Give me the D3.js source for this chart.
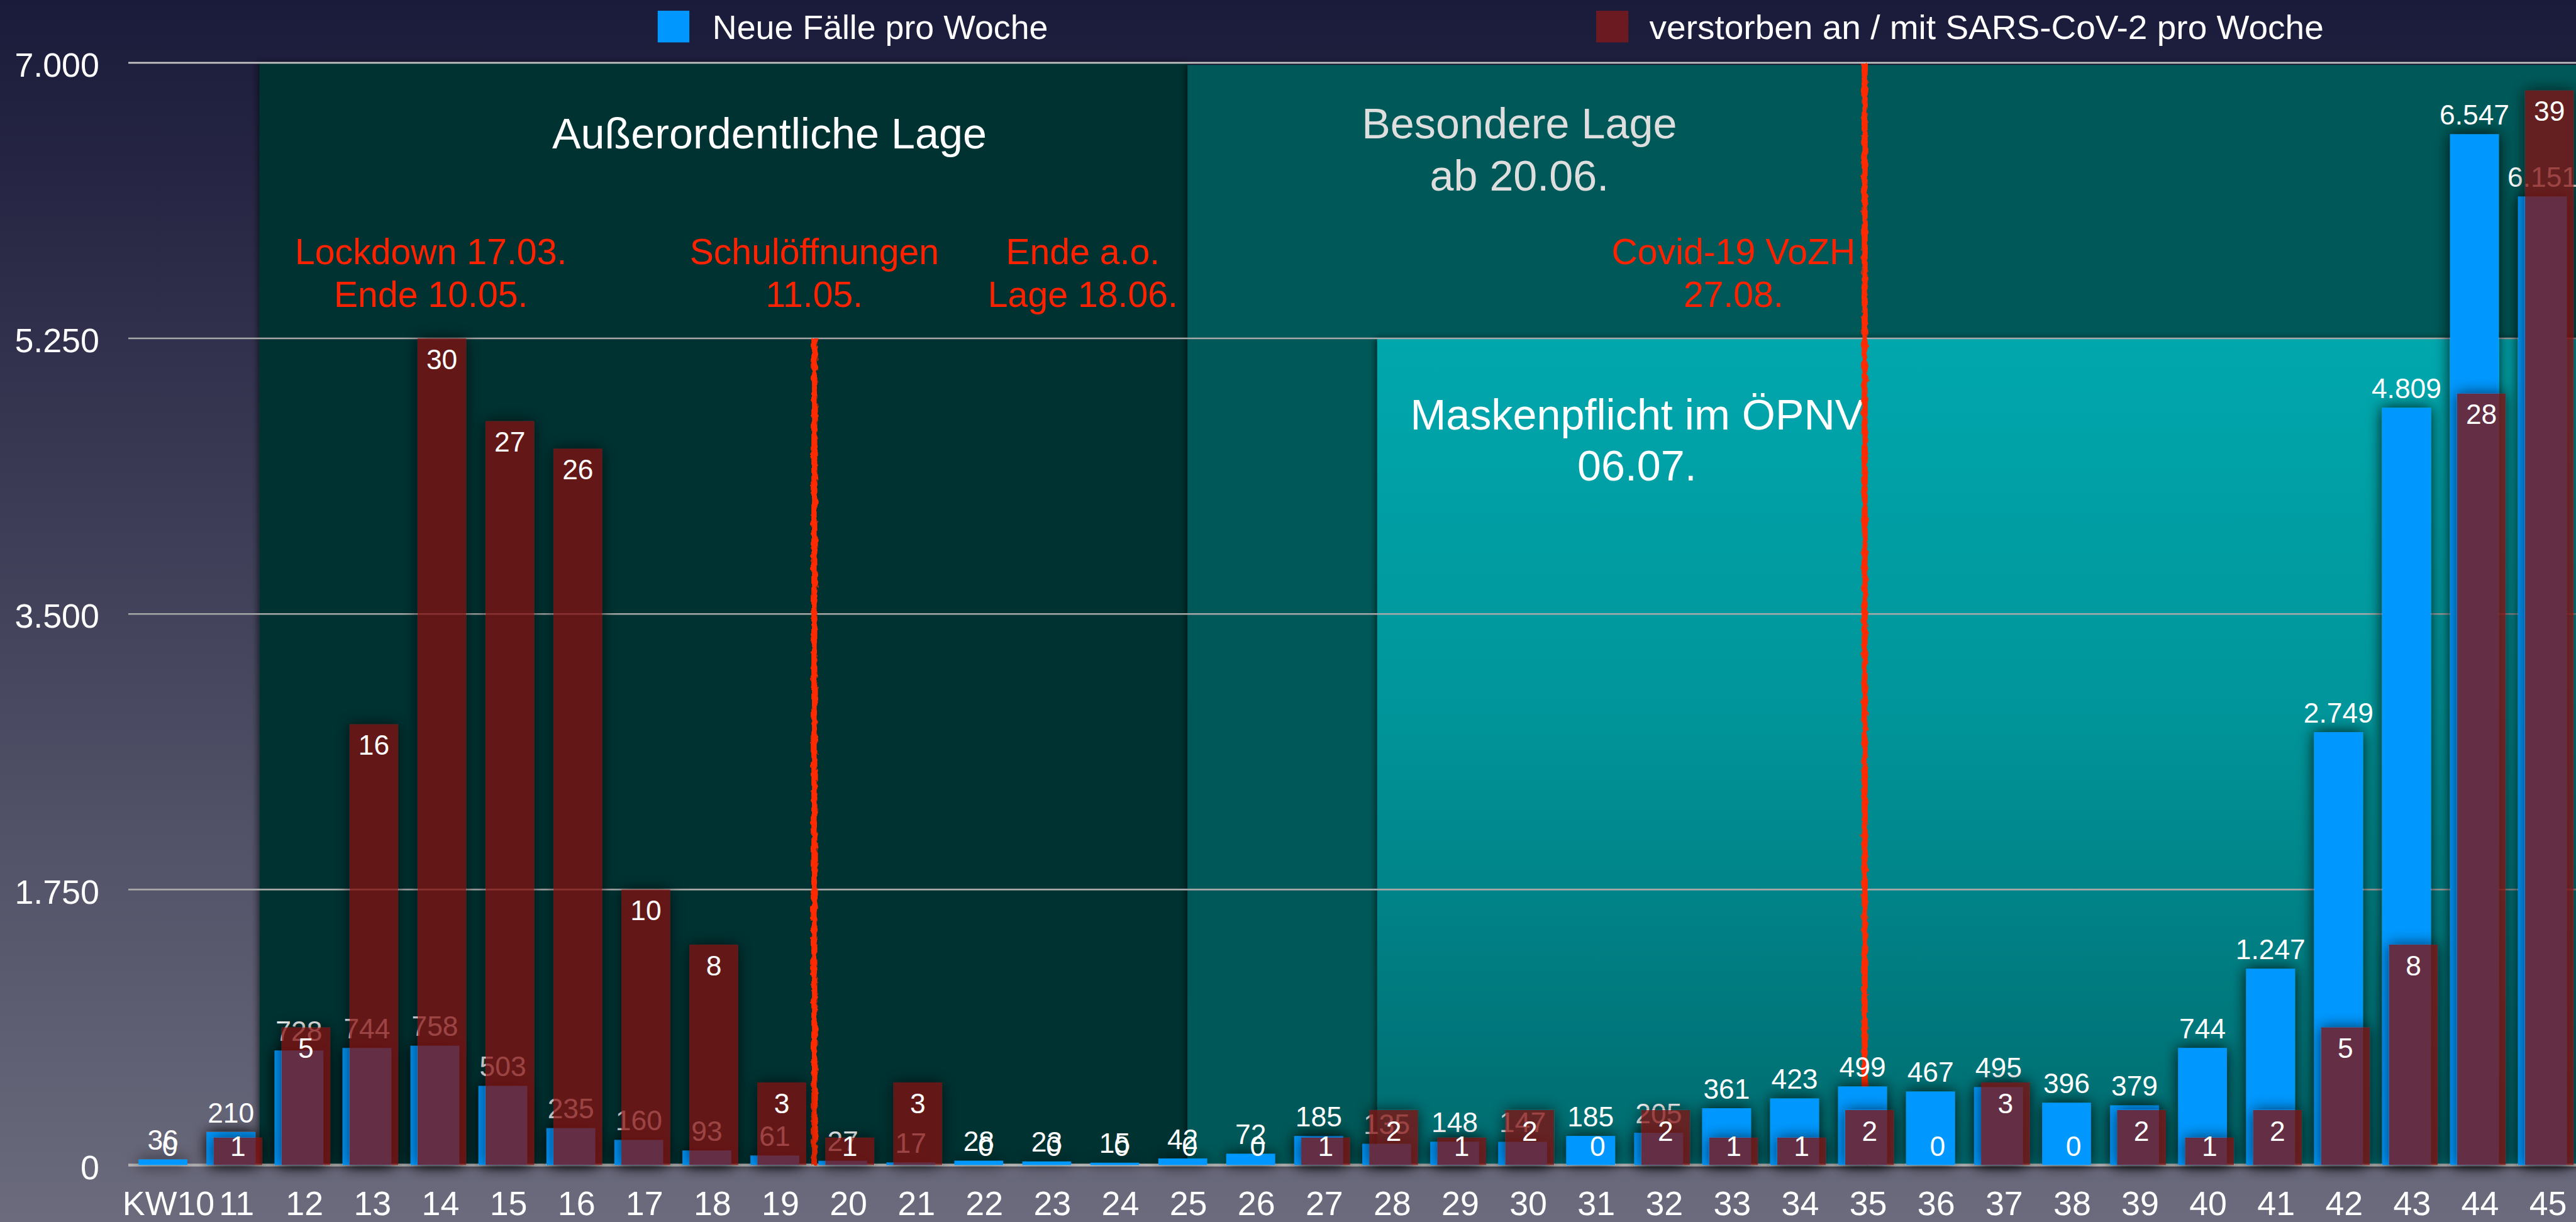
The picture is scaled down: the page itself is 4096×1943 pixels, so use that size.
<!DOCTYPE html>
<html lang="de">
<head>
<meta charset="UTF-8">
<script src="https://d3js.org/d3.v7.min.js"></script>
<style>
  html, body { margin: 0; padding: 0; overflow: hidden; background: #1a1a3a; }
  text { font-family: "Liberation Sans", Arial, Helvetica, sans-serif; }
</style>
</head>
<body>
<div id="chart"></div>
<script>
// --- data ---
const weeks = ["KW10","11","12","13","14","15","16","17","18","19","20","21","22","23","24","25","26","27",
               "28","29","30","31","32","33","34","35","36","37","38","39","40","41","42","43","44","45"];
const cases = [36,210,728,744,758,503,235,160,93,61,27,17,28,23,15,42,72,185,
               135,148,147,185,205,361,423,499,467,495,396,379,744,1247,2749,4809,6547,6151];
const deaths = [0,1,5,16,30,27,26,10,8,3,1,3,0,0,0,0,0,1,
                2,1,2,0,2,1,1,2,0,3,0,2,1,2,5,8,28,39];
const yTicks = [0, 1750, 3500, 5250, 7000];
const seriesNames = ["Neue Fälle pro Woche", "verstorben an / mit SARS-CoV-2 pro Woche"];

// phases (in week units)
const phaseStart = [11.37, 25.02, 27.81];
const phaseEnd = [25.02, 45.6, 45.6];
const phaseTop = [7000, 7000, 5250];
const phaseLines = [["Außerordentliche Lage"], ["Besondere Lage", "ab 20.06."], ["Maskenpflicht im ÖPNV", "06.07."]];
const phaseTextWeek = [18.87, 29.9, 31.63];

// events
const eventWeek = [19.53, 34.98];
const eventTop = [5250, 7000];
const noteLines = [["Lockdown 17.03.", "Ende 10.05."], ["Schulöffnungen", "11.05."], ["Ende a.o.", "Lage 18.06."], ["Covid-19 VoZH", "27.08."]];
const noteWeek = [13.89, 19.53, 23.48, 33.05];

// --- setup ---
const W = 4798, H = 2276;
const k = 4096 / W;
const de = d3.formatLocale({decimal: ",", thousands: ".", grouping: [3], currency: ["", " €"]});
const fmt = de.format(",");

const svg = d3.select("#chart").append("svg")
    .attr("width", 4096)
    .attr("height", 1943);
const defs = svg.append("defs");

const bg = defs.append("linearGradient").attr("id", "bg").attr("x1", 0).attr("y1", 0).attr("x2", 0).attr("y2", 1);
bg.append("stop").attr("offset", "0%").attr("stop-color", "#1a1a3a");
bg.append("stop").attr("offset", "100%").attr("stop-color", "#6b6b7d");

const mask = defs.append("linearGradient").attr("id", "mask").attr("x1", 0).attr("y1", 0).attr("x2", 0).attr("y2", 1);
mask.append("stop").attr("offset", "0%").attr("stop-color", "#00a7ad");
mask.append("stop").attr("offset", "45%").attr("stop-color", "#00959a");
mask.append("stop").attr("offset", "100%").attr("stop-color", "#006a6e");

// outer shadow for bars (user space, bar origin at its top-left)
const sh = defs.append("filter").attr("id", "barShadow").attr("filterUnits", "userSpaceOnUse")
    .attr("x", -90).attr("y", -90).attr("width", 280).attr("height", 2400);
sh.append("feGaussianBlur").attr("in", "SourceAlpha").attr("stdDeviation", 14).attr("result", "blur");
sh.append("feComponentTransfer").attr("in", "SourceAlpha").attr("result", "solid")
  .append("feFuncA").attr("type", "linear").attr("slope", 20);
sh.append("feComposite").attr("in", "blur").attr("in2", "solid").attr("operator", "out").attr("result", "outer");
sh.append("feFlood").attr("flood-color", "#000").attr("flood-opacity", 0.85);
sh.append("feComposite").attr("in2", "outer").attr("operator", "in").attr("result", "shadow");
const shm = sh.append("feMerge");
shm.append("feMergeNode").attr("in", "shadow");
shm.append("feMergeNode").attr("in", "SourceGraphic");

const rs = defs.append("filter").attr("id", "regionShadow").attr("x", -0.05).attr("y", -0.05).attr("width", 1.1).attr("height", 1.1);
rs.append("feDropShadow").attr("dx", -3).attr("dy", 0).attr("stdDeviation", 6)
  .attr("flood-color", "#000").attr("flood-opacity", 0.6);

const rough = defs.append("filter").attr("id", "rough").attr("x", -2).attr("y", -0.02).attr("width", 5).attr("height", 1.04);
rough.append("feTurbulence").attr("type", "fractalNoise").attr("baseFrequency", "0.15 0.08")
  .attr("numOctaves", 2).attr("seed", 3).attr("result", "noise");
rough.append("feDisplacementMap").attr("in", "SourceGraphic").attr("in2", "noise").attr("scale", 8)
  .attr("xChannelSelector", "R").attr("yChannelSelector", "G");

const g = svg.append("g").attr("transform", `scale(${k})`);
g.append("rect").attr("width", W).attr("height", H).attr("fill", "url(#bg)");

// scales
const x = d3.scaleBand().domain(weeks).range([246.7, 4805.3]);
const step = x.step();
const wx = w => x(weeks[0]) + step / 2 + (w - 10) * step;
const y = d3.scaleLinear().domain([0, 7000]).range([2170, 117]);
const y2 = d3.scaleLinear().domain([0, 40]).range([2170, 117]);
const plotLeft = 239;
const barW = 91;
const blueX = (d) => x(d) + step / 2 - 52;
const redX = (d) => x(d) + step / 2 - 39;

// phases
const phaseFill = ["#003333", "#005858", "url(#mask)"];
const phases = g.append("g");
phaseStart.forEach((s, i) => {
  phases.append("rect")
    .attr("x", wx(s))
    .attr("y", y(phaseTop[i]) + (i === 1 ? 4 : 0))
    .attr("width", wx(phaseEnd[i]) - wx(s))
    .attr("height", y(0) - y(phaseTop[i]) - (i === 1 ? 4 : 0))
    .attr("fill", phaseFill[i])
    .attr("filter", "url(#regionShadow)");
});

// phase titles
const phaseBase = [[277], [258, 355], [800, 895]];
const phaseColor = ["#ffffff", "#dedede", "#ffffff"];
phaseLines.forEach((lines, i) => {
  lines.forEach((t, j) => {
    g.append("text")
      .attr("x", wx(phaseTextWeek[i]))
      .attr("y", phaseBase[i][j])
      .attr("text-anchor", "middle")
      .attr("font-size", 80)
      .attr("fill", phaseColor[i])
      .text(t);
  });
});

// red notes
noteLines.forEach((lines, i) => {
  lines.forEach((t, j) => {
    g.append("text")
      .attr("x", wx(noteWeek[i]))
      .attr("y", j === 0 ? 492 : 572)
      .attr("text-anchor", "middle")
      .attr("font-size", 67)
      .attr("fill", "#ff2200")
      .text(t);
  });
});

// gridlines + y labels
yTicks.forEach(t => {
  g.append("line")
    .attr("x1", plotLeft).attr("x2", W)
    .attr("y1", y(t)).attr("y2", y(t))
    .attr("stroke", t === 0 ? "#b8b8b8" : (t === 7000 ? "#c4c4c4" : "#a8a8a8"))
    .attr("stroke-width", t === 0 ? 5 : 3);
  g.append("text")
    .attr("x", 185)
    .attr("y", y(t) + 26)
    .attr("text-anchor", "end")
    .attr("font-size", 63)
    .attr("fill", "#ffffff")
    .text(fmt(t));
});

// event lines
eventWeek.forEach((w, i) => {
  g.append("rect")
    .attr("x", wx(w) - 5.5)
    .attr("y", y(eventTop[i]))
    .attr("width", 11)
    .attr("height", y(0) - y(eventTop[i]))
    .attr("fill", "#ff2a00")
    .attr("filter", "url(#rough)");
});

// x labels
g.selectAll(".xl").data(weeks).enter().append("text")
  .attr("x", d => x(d) + step / 2 + 4)
  .attr("y", 2263)
  .attr("text-anchor", "middle")
  .attr("font-size", 63)
  .attr("fill", "#ffffff")
  .text(d => d);

const data = weeks.map((w, i) => ({w, c: cases[i], d: deaths[i]}));

// blue bars
g.append("g").selectAll("g").data(data).enter().append("g")
  .attr("transform", d => `translate(${blueX(d.w)},${y(d.c)})`)
  .append("rect")
  .attr("width", barW)
  .attr("height", d => y(0) - y(d.c))
  .attr("fill", "#0098ff")
  .attr("filter", "url(#barShadow)");

g.append("g").selectAll("text").data(data).enter().append("text")
  .attr("x", d => blueX(d.w) + barW / 2)
  .attr("y", d => y(d.c) - 18)
  .attr("text-anchor", "middle")
  .attr("font-size", 52)
  .attr("fill", "#ffffff")
  .text(d => fmt(d.c));

// red bars
g.append("g").selectAll("g").data(data.filter(d => d.d > 0)).enter().append("g")
  .attr("transform", d => `translate(${redX(d.w)},${y2(d.d)})`)
  .append("rect")
  .attr("width", barW)
  .attr("height", d => y2(0) - y2(d.d))
  .attr("fill", "#801313")
  .attr("fill-opacity", 0.78)
  .attr("filter", "url(#barShadow)");

g.append("g").selectAll("text").data(data).enter().append("text")
  .attr("x", d => redX(d.w) + barW / 2)
  .attr("y", d => Math.min(y2(d.d) + 57, y(0) - 17))
  .attr("text-anchor", "middle")
  .attr("font-size", 52)
  .attr("fill", "#ffffff")
  .text(d => d.d);

// legend
const legend = g.append("g");
legend.append("rect").attr("x", 1225).attr("y", 20).attr("width", 59).attr("height", 59).attr("fill", "#0098ff");
legend.append("text").attr("x", 1327).attr("y", 73).attr("font-size", 63).attr("fill", "#ffffff")
  .attr("textLength", 625).attr("lengthAdjust", "spacingAndGlyphs").text(seriesNames[0]);
legend.append("rect").attr("x", 2973).attr("y", 20).attr("width", 60).attr("height", 59).attr("fill", "#6b1a22");
legend.append("text").attr("x", 3072).attr("y", 73).attr("font-size", 63).attr("fill", "#ffffff")
  .attr("textLength", 1256).attr("lengthAdjust", "spacingAndGlyphs").text(seriesNames[1]);
</script>
</body>
</html>
